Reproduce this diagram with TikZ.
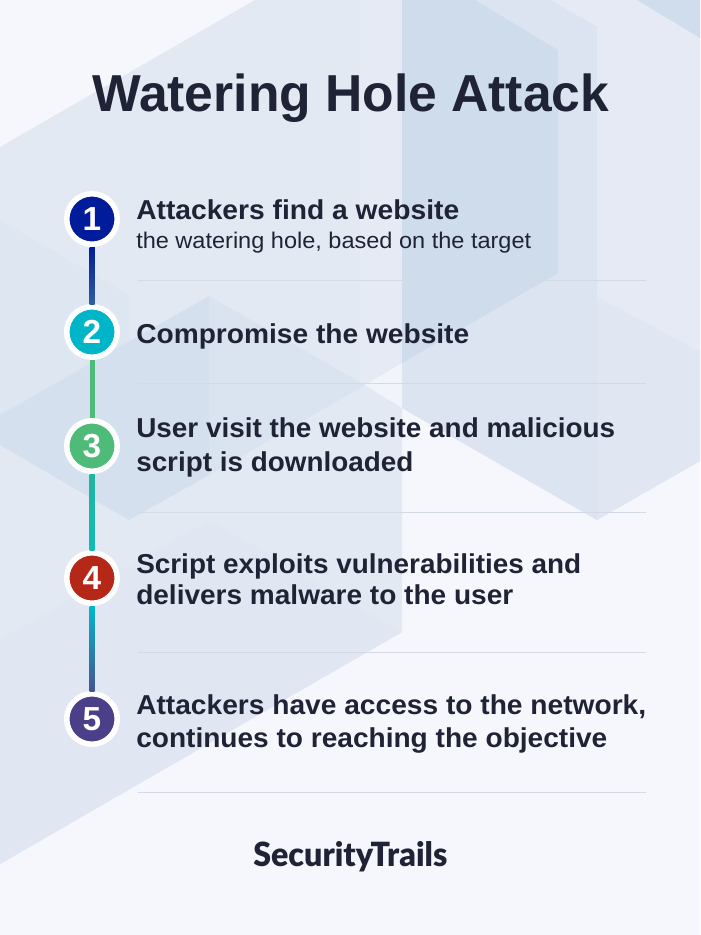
\documentclass[tikz,border=0pt]{standalone}
\usepackage{fontspec}
\usepackage{graphicx}
\setmainfont{Liberation Sans}
\newfontfamily\logofont{Lato Black}
\usetikzlibrary{calc}
\newlength\pxunit
\setlength\pxunit{0.75pt}
\newcommand\fitw[2]{\resizebox{#1\pxunit}{\height}{#2}}
\definecolor{ink}{HTML}{1F2335}
\definecolor{paper}{HTML}{F5F7FC}
\definecolor{rulec}{HTML}{D3DAE6}
\definecolor{cone}{HTML}{001C9A}
\definecolor{ctwo}{HTML}{00B5C8}
\definecolor{cthree}{HTML}{4FBB78}
\definecolor{cfour}{HTML}{B52818}
\definecolor{cfive}{HTML}{4A3F88}
\definecolor{linka}{HTML}{2E5F9E}
\definecolor{linkb}{HTML}{22B4A0}
\definecolor{linkc}{HTML}{10BBB8}
\definecolor{linkd}{HTML}{00B8CC}
\definecolor{linke}{HTML}{47538F}
\tikzset{
  bgshape/.code={\definecolor{bgtmp}{HTML}{#1}\pgfkeysalso{fill=bgtmp,draw=none}},
  stepdot/.style={circle,fill=#1,draw=white,line width=5.5\pxunit,minimum size=50.5\pxunit,inner sep=0pt,text=white,font=\bfseries\fontsize{25}{25}\selectfont},
  headtext/.style={anchor=base west,inner sep=0pt,text=ink,font=\bfseries\fontsize{20.5}{20.5}\selectfont},
  subtext/.style={anchor=base west,inner sep=0pt,text=ink,font=\fontsize{17}{17}\selectfont},
  sepline/.style={draw=rulec,line width=1\pxunit},
  linkbar/.style={line width=5\pxunit},
}
\begin{document}
\begin{tikzpicture}[x=0.75pt,y=-0.75pt]
\useasboundingbox (0,0) rectangle (700,935);
% background
\fill[paper] (0,0) rectangle (700,935);
\path[bgshape=E3E9F3] (0,147) -- (255,0) -- (402,0) -- (402,632) -- (0,864) -- cycle;
\path[bgshape=E4E9F4] (402,0) -- (700,0) -- (700,461) -- (597,520) -- (402,408) -- cycle;
\path[bgshape=E5EAF5] (360,0) -- (402,0) -- (402,363) -- (360,388) -- cycle;
\path[bgshape=E6EAF4] (597,27) -- (550,0) -- (700,0) -- (700,352) -- (597,297) -- cycle;
\path[bgshape=DCE4F1] (402,0) -- (550,0) -- (597,27) -- (597,520) -- (402,408) -- cycle;
\path[bgshape=CFDCEC] (402,0) -- (475,0) -- (558,50) -- (558,273) -- (402,363) -- cycle;
\path[bgshape=D0DDED] (637,0) -- (700,38) -- (700,0) -- cycle;
\path[bgshape=E0E6F2] (597,297) -- (700,352) -- (700,461) -- (597,520) -- cycle;
\path[bgshape=F1F4FA] (365,385) -- (402,363) -- (402,408) -- cycle;
\path[bgshape=E0E7F2] (0,640) -- (209,520) -- (402,632) -- (0,864) -- cycle;
\path[bgshape=DEE6F1] (0,220) -- (129,295) -- (129,520) -- (0,445) -- cycle;
\path[bgshape=D5E0EE] (0,415) -- (209,296) -- (209,475) -- (129,520) -- (0,445) -- cycle;
\path[bgshape=DAE3F0] (209,296) -- (365,385) -- (209,475) -- cycle;
% title
\node[anchor=base west,inner sep=0pt,text=ink,font=\bfseries\fontsize{39}{39}\selectfont] (title) at (92,111) {\fitw{517}{Watering Hole Attack}};
% steps
\node[stepdot=cone] (n1) at (92,219) {1};
\node[stepdot=ctwo] (n2) at (92,332) {2};
\node[stepdot=cthree] (n3) at (92,446) {3};
\node[stepdot=cfour] (n4) at (92,578) {4};
\node[stepdot=cfive] (n5) at (92,719) {5};
% connectors
\draw[linkbar,draw=cone] (n1) -- (n2);
\shade[top color=cone,bottom color=linka] ($(n1.south)+(-2.5,0)$) rectangle ($(n2.north)+(2.5,0)$);
\draw[linkbar,draw=cthree] (n2) -- (n3);
\draw[linkbar,draw=linkb] (n3) -- (n4);
\shade[top color=linkb,bottom color=linkc] ($(n3.south)+(-2.5,0)$) rectangle ($(n4.north)+(2.5,0)$);
\draw[linkbar,draw=ctwo] (n4) -- (n5);
\shade[top color=linkd,bottom color=linke] ($(n4.south)+(-2.5,0)$) rectangle ($(n5.north)+(2.5,0)$);
% text
\node[headtext] (t1) at (136,219) {\fitw{323}{Attackers find a website}};
\node[subtext] (t1b) at (136,248) {\fitw{395}{the watering hole, based on the target}};
\node[headtext] (t2) at (136,343) {\fitw{333}{Compromise the website}};
\node[headtext] (t3) at (136,437) {\fitw{479}{User visit the website and malicious}};
\node[headtext] (t3b) at (136,471) {\fitw{277}{script is downloaded}};
\node[headtext] (t4) at (136,573) {\fitw{445}{Script exploits vulnerabilities and}};
\node[headtext] (t4b) at (136,604) {\fitw{377}{delivers malware to the user}};
\node[headtext] (t5) at (136,714) {\fitw{510}{Attackers have access to the network,}};
\node[headtext] (t5b) at (136,747) {\fitw{471}{continues to reaching the objective}};
% separators
\foreach \i/\yy in {1/280,2/383,3/512,4/652,5/792}{
  \coordinate (sa\i) at (138,\yy);
  \coordinate (sb\i) at (646,\yy);
  \draw[sepline] (sa\i) -- (sb\i);
}
% logo
\node[anchor=base west,inner sep=0pt,text=ink,font=\logofont\fontsize{25}{25}\selectfont] (logo) at (253,866) {\fitw{194}{SecurityTrails}};
\end{tikzpicture}
\end{document}
